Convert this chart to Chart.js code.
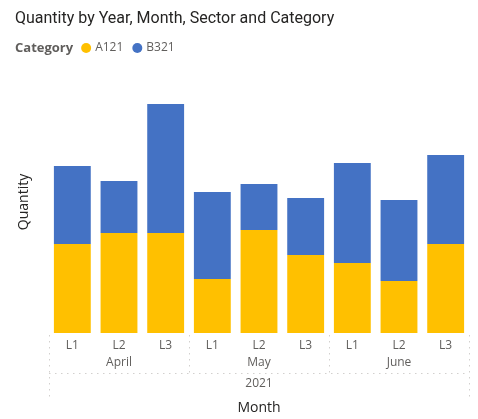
<!DOCTYPE html>
<html>
<head>
<meta charset="utf-8">
<script src="https://cdn.jsdelivr.net/npm/chart.js@4"></script>
<style>
  html, body { margin: 0; padding: 0; background: #fff; }
  canvas { display: block; }
</style>
</head>
<body>
<canvas id="chart" width="478" height="419"></canvas>
<script>
const sectors = ["L1", "L2", "L3", "L1", "L2", "L3", "L1", "L2", "L3"];
const months = ["April", "May", "June"];
const year = "2021";
const a121 = [89, 100, 100, 54, 103, 78, 70, 52, 89];
const b321 = [78, 52, 129, 87, 46, 57, 100, 81, 89];

const FONT = "'Open Sans', 'Noto Sans', sans-serif";
const TEXT = "#605E5C";
const DARK = "#252423";

function dotted(ctx, x1, y1, x2, y2) {
  ctx.beginPath();
  ctx.moveTo(x1, y1);
  ctx.lineTo(x2, y2);
  ctx.stroke();
}

const decorations = {
  id: "decorations",
  afterDraw(chart) {
    const { ctx } = chart;
    const x = chart.scales.x;
    ctx.save();

    // title
    ctx.fillStyle = DARK;
    ctx.font = "16px Roboto, " + FONT;
    ctx.textBaseline = "middle";
    ctx.textAlign = "left";
    ctx.fillText("Quantity by Year, Month, Sector and Category", 15, 19);

    // legend
    let lx = 15;
    ctx.font = "bold 13px " + FONT;
    ctx.fillStyle = TEXT;
    ctx.fillText("Category", lx, 48);
    lx += ctx.measureText("Category").width + 8;
    ctx.font = "12px " + FONT;
    chart.data.datasets.forEach(ds => {
      ctx.fillStyle = ds.backgroundColor;
      ctx.beginPath();
      ctx.arc(lx + 5, 48, 5, 0, Math.PI * 2);
      ctx.fill();
      ctx.fillStyle = TEXT;
      ctx.fillText(ds.label, lx + 14, 48);
      lx += 14 + ctx.measureText(ds.label).width + 9;
    });

    // hierarchy separators
    const step = x.getPixelForValue(1) - x.getPixelForValue(0);
    const left = x.getPixelForValue(0) - step / 2;
    const right = x.getPixelForValue(sectors.length - 1) + step / 2;
    ctx.strokeStyle = "#D2D0CE";
    ctx.lineWidth = 1;
    ctx.setLineDash([1.5, 4.5]);
    dotted(ctx, Math.round(left) + 0.5, 335, Math.round(left) + 0.5, 397);
    dotted(ctx, Math.round(right) + 0.5, 335, Math.round(right) + 0.5, 397);
    for (let m = 1; m < months.length; m++) {
      const bx = Math.round(left + m * 3 * step) + 0.5;
      dotted(ctx, bx, 335, bx, 373);
    }
    dotted(ctx, left, 373.5, right, 373.5);
    ctx.setLineDash([]);

    // month and year labels
    ctx.fillStyle = TEXT;
    ctx.font = "12px " + FONT;
    ctx.textAlign = "center";
    months.forEach((m, i) => {
      ctx.fillText(m, x.getPixelForValue(i * 3 + 1), 363);
    });
    ctx.fillText(year, (left + right) / 2, 384);

    // x title
    ctx.fillStyle = DARK;
    ctx.font = "14px " + FONT;
    ctx.fillText("Month", (left + right) / 2, 408);
    ctx.restore();
  }
};

new Chart(document.getElementById("chart"), {
  type: "bar",
  data: {
    labels: sectors,
    datasets: [
      { label: "A121", data: a121, backgroundColor: "#FFC000" },
      { label: "B321", data: b321, backgroundColor: "#4472C4" }
    ]
  },
  options: {
    responsive: false,
    animation: false,
    devicePixelRatio: 1,
    layout: { padding: { top: 71, left: 0, right: 9, bottom: 0 } },
    categoryPercentage: 0.79,
    barPercentage: 1,
    plugins: {
      legend: { display: false },
      tooltip: { enabled: false }
    },
    scales: {
      x: {
        stacked: true,
        grid: { display: false, drawTicks: false },
        border: { display: false },
        ticks: { color: TEXT, font: { family: FONT, size: 12 }, padding: 5, maxRotation: 0 },
        afterFit: s => { s.height = 86; }
      },
      y: {
        stacked: true,
        min: 0,
        max: 262,
        grid: { display: false, drawTicks: false },
        border: { display: false },
        ticks: { display: false },
        title: {
          display: true,
          text: "Quantity",
          color: DARK,
          font: { family: FONT, size: 14 },
          padding: { top: 16, bottom: 0 }
        },
        afterFit: s => { s.width = 49; }
      }
    }
  },
  plugins: [decorations]
});
</script>
</body>
</html>
